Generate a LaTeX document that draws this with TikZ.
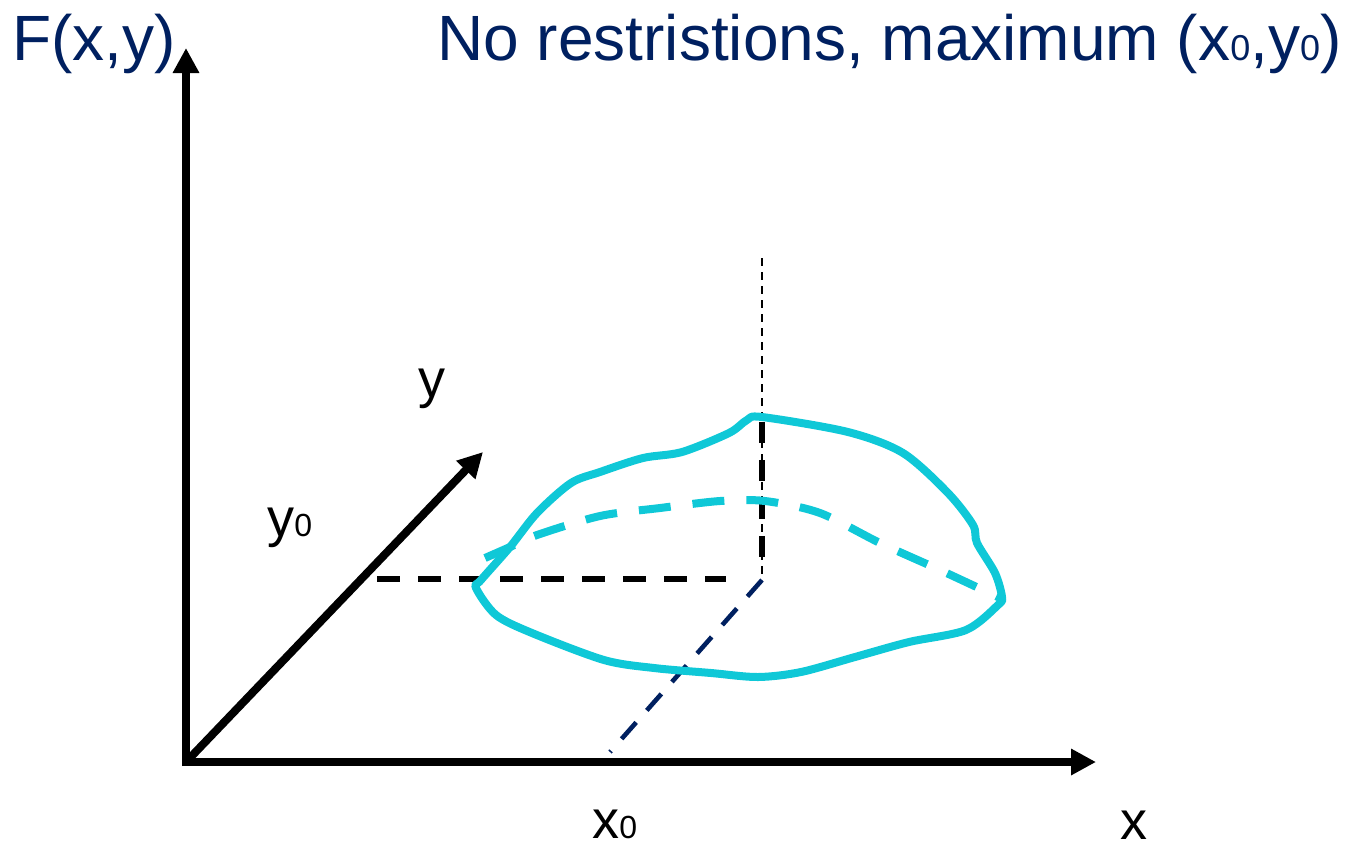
\documentclass[tikz,border=0pt]{standalone}
\usepackage{fontspec}
\setmainfont{Liberation Sans}
\usetikzlibrary{arrows.meta}
\definecolor{cyanline}{RGB}{15,200,215}
\definecolor{navy}{RGB}{0,32,96}
\newcommand{\szero}[1]{{\fontsize{#1}{#1}\selectfont 0}}
\tikzset{
  axis/.style={line width=4pt,-{Triangle[length=12.5pt,width=12.5pt]}},
  lbl/.style={anchor=base west,inner sep=0pt,font=\fontsize{27pt}{30pt}\selectfont},
  ttl/.style={anchor=base west,inner sep=0pt,text=navy,font=\fontsize{32pt}{36pt}\selectfont},
  blackdash/.style={line width=2.8pt,dash pattern=on 11.5pt off 9pt},
  thindash/.style={line width=1pt,dash pattern=on 4pt off 3pt},
  thickdash/.style={line width=2.8pt,dash pattern=on 10.5pt off 8.5pt},
  navydash/.style={navy,line width=2.3pt,dash pattern=on 11pt off 8pt},
  surf/.style={cyanline,line width=4pt,line join=round,line cap=round},
  surfdash/.style={cyanline,line width=4pt,dash pattern=on 16pt off 11pt}
}
\begin{document}
\begin{tikzpicture}[x=0.5pt,y=-0.5pt]
\useasboundingbox (0,0) rectangle (1352,851);
% coordinates
\coordinate (O) at (186,762);
\coordinate (Ostart) at (186,766);
\coordinate (Oh) at (182,762);
\coordinate (Ztip) at (186,48);
\coordinate (Xtip) at (1096,762);
\coordinate (Ytip) at (483,452);
\coordinate (P) at (762,580);
\coordinate (Ptop) at (762,258);
\coordinate (Pthick) at (762,422);
\coordinate (Pthickend) at (762,560);
\coordinate (Hstart) at (377,579);
\coordinate (Hend) at (726,579);
\coordinate (Xfoot) at (610,752);
% titles
\node[ttl] (ftxt) at (12,60) {F(x,y)};
\node[ttl] (title) at (437,60) {No restristions, maximum (x\szero{18pt},y\szero{18pt})};
% labels
\node[lbl] (ylab) at (418,397) {y};
\node[lbl] (y0lab) at (267,536) {y\szero{16pt}};
\node[lbl] (x0lab) at (592,838) {x\szero{16pt}};
\node[lbl] (xlab) at (1120,839) {x};
% guide lines
\draw[thindash] (Ptop) -- (P);
\draw[thickdash] (Pthick) -- (Pthickend);
\draw[blackdash] (Hstart) -- (Hend);
\draw[navydash] (P) -- (Xfoot);
% surface
\draw[surf] plot[smooth cycle,tension=0.5] coordinates {
 (481,580) (510,547) (537,513) (571,483) (600,472) (643,458) (682,452)
 (729,433) (747,420) (762,417) (848,432) (903,453) (948,493) (973,525)
 (977,543) (995,573) (1002,597) (998,605) (966,630) (909,642) (855,657)
 (801,672) (758,677) (711,673) (654,668) (604,660) (532,633) (496,615) (476,588)};
\draw[surfdash] plot[smooth,tension=0.5] coordinates {
 (485,558) (510,547) (537,535) (600,516) (660,508) (720,501) (765,501)
 (820,513) (880,543) (940,570) (1000,598)};
% axes
\draw[axis] (Ostart) -- (Ztip);
\draw[axis] (Oh) -- (Xtip);
\draw[axis] (O) -- (Ytip);
\end{tikzpicture}
\end{document}
